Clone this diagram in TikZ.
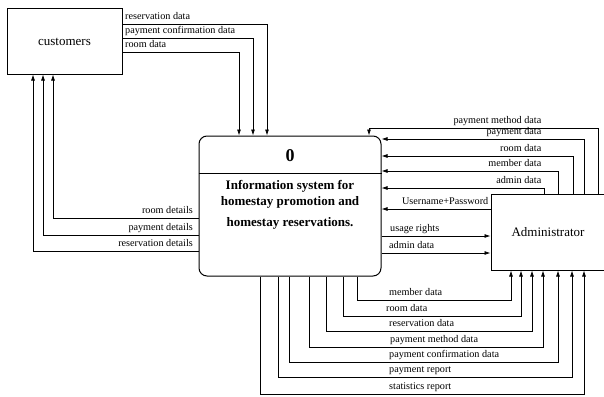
\documentclass[tikz,border=0pt]{standalone}
\usepackage{fontspec}
\setmainfont{Liberation Serif}
\usetikzlibrary{arrows.meta}

\tikzset{
  entity/.style={draw, line width=1pt, inner sep=0pt, font=\fontsize{13}{15}\selectfont},
  process/.style={draw, line width=1pt, rounded corners=8pt, inner sep=0pt},
  flow/.style={line width=0.75pt, -{Latex[length=6pt,width=4pt]}},
  lblL/.style={anchor=base west, inner sep=0pt, font=\fontsize{10.2}{12}\selectfont},
  lblR/.style={anchor=base east, inner sep=0pt, font=\fontsize{10.2}{12}\selectfont},
}

\begin{document}
\begin{tikzpicture}[x=1pt, y=-1pt]
  \useasboundingbox (0,0) rectangle (604,396);

  % entities and the process
  \node[entity, minimum width=115pt, minimum height=65pt] (cust) at (64.5,41.5) {customers};
  \node[entity, minimum width=114pt, minimum height=76pt] (admin) at (548,232) {Administrator};
  \node[process, minimum width=182pt, minimum height=140pt] (sys) at (290,206) {};
  \draw[line width=1pt] (sys.west |- 0,173) -- (sys.east |- 0,173);
  \node[font=\bfseries\fontsize{18}{20}\selectfont] (num) at (290,156) {0};
  \node[font=\bfseries\fontsize{13}{16}\selectfont, align=center] (title) at (290,205)
    {Information system for\\homestay promotion and\\[5pt]homestay reservations.};

  % customers -> system
  \draw[flow] (cust.east |- 0,24) -| (267,0 |- sys.north);
  \draw[flow] (cust.east |- 0,38) -| (253,0 |- sys.north);
  \draw[flow] (cust.east |- 0,52) -| (239,0 |- sys.north);
  \node[lblL] (c1) at (125,19.5) {reservation data};
  \node[lblL] (c2) at (125,33.5) {payment confirmation data};
  \node[lblL] (c3) at (125,47.5) {room data};

  % system -> customers
  \draw[flow] (sys.west |- 0,218) -| (53,0 |- cust.south);
  \draw[flow] (sys.west |- 0,235) -| (43,0 |- cust.south);
  \draw[flow] (sys.west |- 0,251) -| (33,0 |- cust.south);
  \node[lblR] (d1) at (193,213.5) {room details};
  \node[lblR] (d2) at (193,230.5) {payment details};
  \node[lblR] (d3) at (193,246.5) {reservation details};

  % administrator -> system
  \draw[flow] (598,0 |- admin.north) |- (369,128) -- (369,0 |- sys.north);
  \draw[flow] (584,0 |- admin.north) |- (sys.east |- 0,139);
  \draw[flow] (573,0 |- admin.north) |- (sys.east |- 0,156);
  \draw[flow] (558,0 |- admin.north) |- (sys.east |- 0,171);
  \draw[flow] (544,0 |- admin.north) |- (sys.east |- 0,188);
  \draw[flow] (admin.west |- 0,209) -- (sys.east |- 0,209);
  \node[lblR] (a1) at (541.5,123.5) {payment method data};
  \node[lblR] (a2) at (541.5,134.5) {payment data};
  \node[lblR] (a3) at (541.5,151.5) {room data};
  \node[lblR] (a4) at (541.5,166.5) {member data};
  \node[lblR] (a5) at (541.5,183.5) {admin data};
  \node[lblR] (a6) at (488.5,204.5) {Username+Password};

  % system -> administrator
  \draw[flow] (sys.east |- 0,236) -- (admin.west |- 0,236);
  \draw[flow] (sys.east |- 0,253) -- (admin.west |- 0,253);
  \node[lblL] (b1) at (390,231) {usage rights};
  \node[lblL] (b2) at (389,248) {admin data};

  \draw[flow] (357,0 |- sys.south) |- (511,300) -- (511,0 |- admin.south);
  \draw[flow] (343,0 |- sys.south) |- (521,316) -- (521,0 |- admin.south);
  \draw[flow] (326,0 |- sys.south) |- (532,331) -- (532,0 |- admin.south);
  \draw[flow] (309,0 |- sys.south) |- (543,347) -- (543,0 |- admin.south);
  \draw[flow] (289,0 |- sys.south) |- (558,362) -- (558,0 |- admin.south);
  \draw[flow] (278,0 |- sys.south) |- (572,377) -- (572,0 |- admin.south);
  \draw[flow] (260,0 |- sys.south) |- (584,394) -- (584,0 |- admin.south);
  \node[lblL] (r1) at (389,295.5) {member data};
  \node[lblL] (r2) at (386,311.5) {room data};
  \node[lblL] (r3) at (389,326.5) {reservation data};
  \node[lblL] (r4) at (390,342.5) {payment method data};
  \node[lblL] (r5) at (389,357.5) {payment confirmation data};
  \node[lblL] (r6) at (389,372) {payment report};
  \node[lblL] (r7) at (389,389.5) {statistics report};
\end{tikzpicture}
\end{document}
